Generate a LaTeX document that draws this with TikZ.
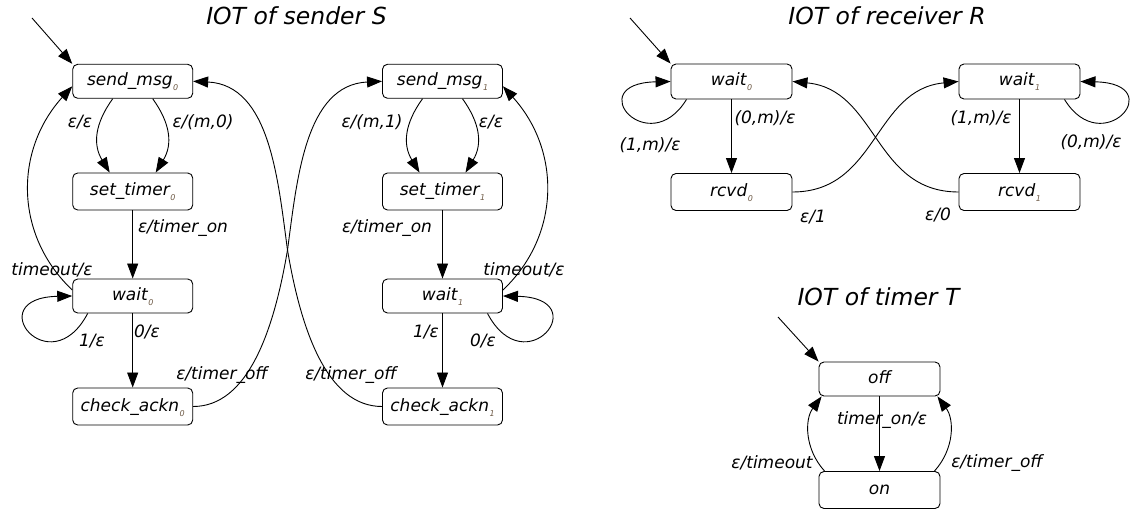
\documentclass[tikz,border=0pt]{standalone}
\usepackage{fontspec}
\setmainfont{DejaVu Sans}
\usetikzlibrary{arrows.meta}
\definecolor{subc}{RGB}{110,90,70}
\newcommand\sbx[1]{\kern0.5pt\raisebox{-5pt}{\fontsize{8}{8}\selectfont\color{subc}#1}}
\begin{document}
\begin{tikzpicture}[x=1pt,y=-1pt,
  st/.style={draw, rounded corners=5pt, line width=0.9pt, minimum width=120pt, minimum height=34pt, inner sep=0pt, text height=12pt, text depth=3pt, font=\fontsize{17}{20}\selectfont\itshape},
  stt/.style={st, minimum height=37pt},
  lbl/.style={inner sep=0pt, font=\fontsize{17}{20}\selectfont\itshape},
  ttl/.style={inner sep=0pt, anchor=base, font=\fontsize{23.5}{28}\selectfont\itshape},
  tr/.style={line width=0.9pt, -{Triangle[length=15pt,width=11pt]}},
  ]
\useasboundingbox (0,0) rectangle (1135,510);

% titles
\node[ttl] (t1) at (296.5,25) {IOT of sender S};
\node[ttl] (t2) at (887,25) {IOT of receiver R};
\node[ttl] (t3) at (878.5,306) {IOT of timer T};

% sender nodes
\node[st]  (s0) at (132.7,81.3) {send\_msg\sbx{0}};
\node[stt] (z0) at (132.7,191.5) {set\_timer\sbx{0}};
\node[st]  (w0) at (132.7,296) {wait\sbx{0}};
\node[stt] (c0) at (132.7,406.5) {check\_ackn\sbx{0}};
\node[st]  (s1) at (442.5,81.3) {send\_msg\sbx{1}};
\node[stt] (z1) at (442.5,191.5) {set\_timer\sbx{1}};
\node[st]  (w1) at (442.5,296) {wait\sbx{1}};
\node[stt] (c1) at (442.5,406.5) {check\_ackn\sbx{1}};

% receiver nodes
\node[st, minimum width=121pt, minimum height=35pt]  (rw0) at (731.5,81.5) {wait\sbx{0}};
\node[stt, minimum width=121pt] (rr0) at (731.5,192) {rcvd\sbx{0}};
\node[st, minimum width=121pt, minimum height=35pt]  (rw1) at (1019.5,81.5) {wait\sbx{1}};
\node[stt, minimum width=121pt] (rr1) at (1019.5,192) {rcvd\sbx{1}};

% timer nodes
\node[st, minimum width=121pt]  (off) at (879.5,379) {off};
\node[stt, minimum width=121pt] (on)  at (879.5,490) {on};

% initial arrows
\coordinate (i0) at (32,18);
\coordinate (i1) at (630,18);
\coordinate (i2) at (778,317);
\draw[tr] (i0) -- (s0.north west);
\draw[tr] (i1) -- (rw0.north west);
\draw[tr] (i2) -- (off.north west);

% sender edges
\draw[tr] ([xshift=-20pt]s0.south) .. controls +(-18,25) and +(-17,-28) .. ([xshift=-23pt]z0.north);
\draw[tr] ([xshift=20pt]s0.south) .. controls +(18,25) and +(17,-28) .. ([xshift=23pt]z0.north);
\draw[tr] ([xshift=-20pt]s1.south) .. controls +(-18,25) and +(-17,-28) .. ([xshift=-23pt]z1.north);
\draw[tr] ([xshift=20pt]s1.south) .. controls +(18,25) and +(17,-28) .. ([xshift=23pt]z1.north);
\draw[tr] (z0) -- (w0);
\draw[tr] (z1) -- (w1);
\draw[tr] (w0) -- (c0);
\draw[tr] (w1) -- (c1);
\draw[tr] ([xshift=-45pt]w0.south) .. controls +(-38,72) and +(-93,2) .. (w0.west);
\draw[tr] ([xshift=45pt]w1.south) .. controls +(38,72) and +(93,2) .. (w1.east);
\draw[tr] ([yshift=6pt]w0.west) .. controls +(-58,-55) and +(-58,64) .. ([yshift=-5pt]s0.west);
\draw[tr] ([yshift=6pt]w1.east) .. controls +(58,-55) and +(58,64) .. ([yshift=-5pt]s1.east);
\draw[tr] (c0.east) .. controls +(55,0) and (274,330) .. (287.5,250) .. controls (297,180) and (305,85) .. (s1.west);
\draw[tr] (c1.west) .. controls +(-55,0) and (301,330) .. (287.5,250) .. controls (278,180) and (270,85) .. (s0.east);

% sender labels
\node[lbl] (l1) at (80,122) {ε/ε};
\node[lbl] (l2) at (203,122) {ε/(m,0)};
\node[lbl] (l3) at (372,122) {ε/(m,1)};
\node[lbl] (l4) at (491,122) {ε/ε};
\node[lbl] (l5) at (183,228) {ε/timer\_on};
\node[lbl] (l6) at (387,228) {ε/timer\_on};
\node[lbl] (l7) at (52,270) {timeout/ε};
\node[lbl] (l8) at (524,270) {timeout/ε};
\node[lbl] (l9) at (147,332) {0/ε};
\node[lbl] (l10) at (426,332) {1/ε};
\node[lbl] (l11) at (92,341) {1/ε};
\node[lbl] (l12) at (483,341) {0/ε};
\node[lbl] (l13) at (222,375) {ε/timer\_off};
\node[lbl] (l14) at (351,375) {ε/timer\_off};

% receiver edges
\draw[tr] (rw0) -- (rr0);
\draw[tr] (rw1) -- (rr1);
\draw[tr] (rr0.east) .. controls +(85,0) and +(-85,8) .. (rw1.west);
\draw[tr] (rr1.west) .. controls +(-85,0) and +(85,8) .. (rw0.east);
\draw[tr] ([xshift=-45pt]rw0.south) .. controls +(-38,62) and +(-90,2) .. (rw0.west);
\draw[tr] ([xshift=45pt]rw1.south) .. controls +(38,62) and +(90,2) .. (rw1.east);

% receiver labels
\node[lbl] (m1) at (650,145) {(1,m)/ε};
\node[lbl] (m2) at (765,118) {(0,m)/ε};
\node[lbl] (m3) at (981,118) {(1,m)/ε};
\node[lbl] (m4) at (1091,142) {(0,m)/ε};
\node[lbl] (m5) at (813,217) {ε/1};
\node[lbl] (m6) at (938,215) {ε/0};

% timer edges
\draw[tr] (off) -- (on);
\draw[tr] ([xshift=6pt]on.north west) .. controls +(-20,-22) and +(-17,23) .. ([xshift=3pt]off.south west);
\draw[tr] ([xshift=-6pt]on.north east) .. controls +(20,-22) and +(17,23) .. ([xshift=-3pt]off.south east);

% timer labels
\node[lbl] (n1) at (882,420) {timer\_on/ε};
\node[lbl] (n2) at (772,463) {ε/timeout};
\node[lbl] (n3) at (997,463) {ε/timer\_off};
\end{tikzpicture}
\end{document}
